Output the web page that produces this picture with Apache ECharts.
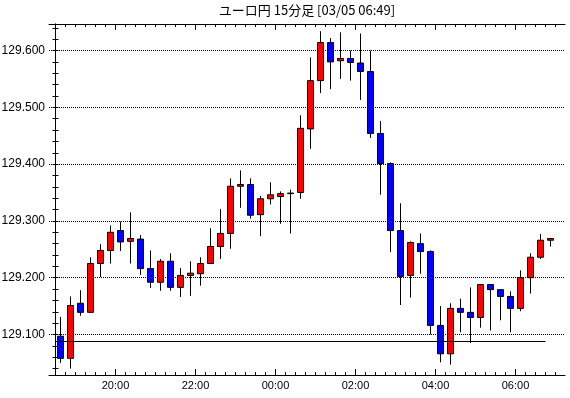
<!DOCTYPE html>
<html>
<head>
<meta charset="utf-8">
<script src="https://cdn.jsdelivr.net/npm/echarts@6/dist/echarts.min.js"></script>
<style>
  html, body { margin: 0; padding: 0; background: #fff; }
  #chart { width: 570px; height: 398px; }
</style>
</head>
<body>
<div id="chart"></div>
<script>
// ユーロ円 15分足
var times = ['18:30', '18:45', '19:00', '19:15', '19:30', '19:45',
  '20:00', '20:15', '20:30', '20:45', '21:00', '21:15', '21:30', '21:45',
  '22:00', '22:15', '22:30', '22:45', '23:00', '23:15', '23:30', '23:45',
  '00:00', '00:15', '00:30', '00:45', '01:00', '01:15', '01:30', '01:45',
  '02:00', '02:15', '02:30', '02:45', '03:00', '03:15', '03:30', '03:45',
  '04:00', '04:15', '04:30', '04:45', '05:00', '05:15', '05:30', '05:45',
  '06:00', '06:15', '06:30', '06:45'];

var open = [129.097, 129.058, 129.155, 129.139, 129.225, 129.248, 129.283, 129.264, 129.268, 129.216,
  129.192, 129.229, 129.183, 129.204, 129.207, 129.225, 129.255, 129.278, 129.361, 129.364,
  129.311, 129.339, 129.343, 129.348, 129.350, 129.462, 129.547, 129.614, 129.582, 129.586,
  129.578, 129.563, 129.454, 129.401, 129.283, 129.204, 129.260, 129.246, 129.116, 129.066,
  129.146, 129.139, 129.130, 129.188, 129.179, 129.167, 129.146, 129.200, 129.236, 129.266];
var close = [129.058, 129.151, 129.139, 129.225, 129.248, 129.280, 129.263, 129.269, 129.216, 129.192,
  129.229, 129.183, 129.204, 129.208, 129.225, 129.255, 129.278, 129.361, 129.364, 129.310,
  129.339, 129.346, 129.348, 129.349, 129.463, 129.547, 129.614, 129.580, 129.586, 129.579,
  129.563, 129.454, 129.401, 129.283, 129.202, 129.262, 129.246, 129.116, 129.066, 129.146,
  129.139, 129.130, 129.188, 129.179, 129.167, 129.146, 129.200, 129.236, 129.266, 129.269];
var low = [129.050, 129.040, 129.133, 129.139, 129.201, 129.225, 129.247, 129.225, 129.205, 129.182,
  129.177, 129.177, 129.166, 129.168, 129.186, 129.225, 129.233, 129.251, 129.323, 129.304,
  129.273, 129.329, 129.295, 129.278, 129.339, 129.427, 129.525, 129.532, 129.550, 129.547,
  129.513, 129.446, 129.346, 129.245, 129.152, 129.165, 129.207, 129.100, 129.051, 129.047,
  129.104, 129.085, 129.112, 129.107, 129.125, 129.104, 129.141, 129.172, 129.233, 129.255];
var high = [129.131, 129.167, 129.178, 129.236, 129.259, 129.292, 129.299, 129.315, 129.275, 129.248,
  129.233, 129.243, 129.217, 129.229, 129.236, 129.287, 129.321, 129.375, 129.389, 129.375,
  129.344, 129.368, 129.352, 129.355, 129.486, 129.588, 129.634, 129.622, 129.632, 129.600,
  129.630, 129.600, 129.476, 129.403, 129.331, 129.264, 129.278, 129.248, 129.150, 129.155,
  129.163, 129.183, 129.188, 129.188, 129.179, 129.176, 129.213, 129.243, 129.277, 129.269];

var refLevel = 129.0877;         // 水平ライン
var xLabels = ['20:00', '22:00', '00:00', '02:00', '04:00', '06:00'];
var yLabels = [129.1, 129.2, 129.3, 129.4, 129.5, 129.6];

var yMin = 129.0287, yMax = 129.6467;
var label_font = 'Liberation Sans';

// candle i sits between tick i and tick i+1
var candles = [];
for (var i = 0; i < times.length; i++) {
  candles.push([i + 0.5, open[i], close[i], low[i], high[i]]);
}
var minorX = [];
for (var k = 0; k <= times.length; k++) minorX.push(k);
var majorX = xLabels.map(function (t) { return times.indexOf(t); });
var minorY = [];
for (var m = 6452; m <= 6482; m++) minorY.push(+(m * 0.02).toFixed(2));

function xAxisDef(pos, ticks, len, showLabel, showLine) {
  return {
    type: 'value', position: pos, min: -0.65, max: 50.95,
    axisLine: { show: showLine, onZero: false, lineStyle: { color: '#000', width: 1 } },
    axisTick: { show: true, inside: true, length: len, customValues: ticks, lineStyle: { color: '#000' } },
    axisLabel: {
      show: showLabel, customValues: majorX, margin: 5,
      color: '#000', fontSize: 11, fontFamily: label_font,
      formatter: function (v) { return times[Math.round(v)]; }
    },
    splitLine: { show: false }
  };
}

function yAxisDef(pos, ticks, showTick, showLine, showLabel, showSplit) {
  return {
    type: 'value', position: pos, min: yMin, max: yMax,
    axisLine: { show: showLine, lineStyle: { color: '#000' } },
    axisTick: { show: showTick, inside: true, length: 3, customValues: ticks, lineStyle: { color: '#000' } },
    axisLabel: {
      show: showLabel, customValues: yLabels, margin: 4, color: '#000', fontSize: 12, fontFamily: label_font,
      formatter: function (v) { return v.toFixed(3); }
    },
    splitLine: { show: showSplit, lineStyle: { color: '#000', type: 'dotted', width: 1 } }
  };
}

var chart = echarts.init(document.getElementById('chart'));
chart.setOption({
  animation: false,
  backgroundColor: '#fff',
  graphic: [{
    type: 'text', x: 307, y: 4,
    style: {
      text: 'ユーロ円 15分足 [03/05 06:49]',
      font: '13px "Noto Sans CJK JP"', fill: '#000',
      align: 'center', verticalAlign: 'top'
    }
  }],
  grid: { left: 49, right: 5, top: 24, bottom: 23, containLabel: false, outerBoundsMode: 'none' },
  xAxis: [
    xAxisDef('bottom', minorX, 3, false, true),
    xAxisDef('bottom', majorX, 6, true, false),
    xAxisDef('top', minorX, 3, false, true),
    xAxisDef('top', majorX, 6, false, false)
  ],
  yAxis: [
    yAxisDef('left', minorY, true, true, true, false),
    yAxisDef('right', minorY, true, true, false, false),
    // dotted grid lines at the labelled values only
    yAxisDef('left', yLabels, false, false, false, true)
  ],
  series: [
    {
      type: 'candlestick',
      data: candles,
      encode: { x: 0, y: [1, 2, 3, 4] },
      barWidth: 6,
      z: 2,
      itemStyle: {
        color: '#ff0000', color0: '#0000ff',
        borderColor: '#000', borderColor0: '#000', borderWidth: 1
      }
    },
    {
      type: 'line',
      data: [[0, refLevel], [times.length - 1, refLevel]],
      showSymbol: false, silent: true, z: 3,
      lineStyle: { color: '#000', width: 1 }
    }
  ]
});
</script>
</body>
</html>
